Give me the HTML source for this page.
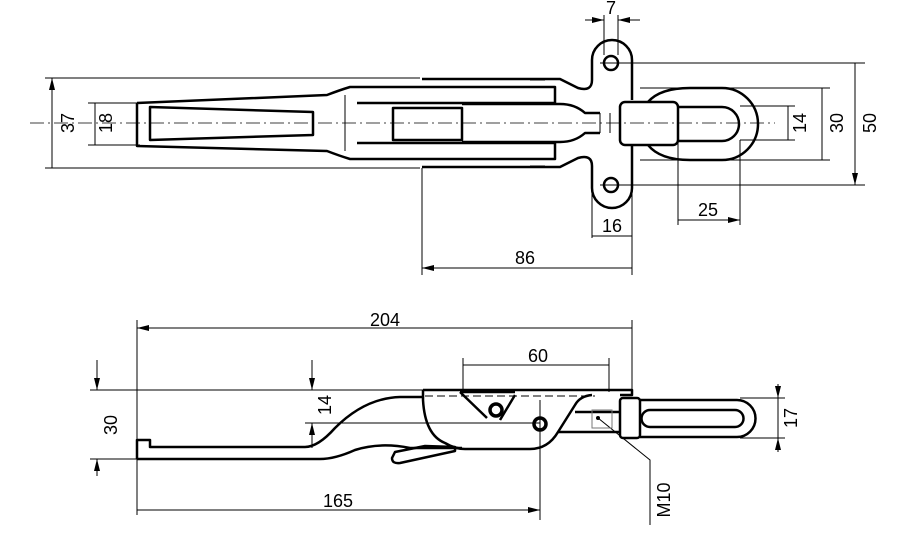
<!DOCTYPE html>
<html><head><meta charset="utf-8"><style>body{margin:0;background:#fff}svg{display:block}text{font-family:"Liberation Sans",sans-serif;font-size:18px;fill:#000}</style></head><body>
<svg width="900" height="540" viewBox="0 0 900 540" xmlns="http://www.w3.org/2000/svg">
<defs><marker id="a" viewBox="0 0 12 6" refX="12" refY="3" markerWidth="12" markerHeight="6" orient="auto-start-reverse" markerUnits="userSpaceOnUse"><path d="M0,0L12,3L0,6z"/></marker></defs>
<g fill="none" stroke="#000" stroke-width="1">
<path d="M45 78H420M45 168H420M88 103H140M88 145H140M600 63H865M600 185H865M640 88H830M640 160H830M740 106H795M740 140H795M422 168V275M632 150V275M592 190V238M632 190V238M678 140V225M740 140V225M604 15V55M618 15V55"/>
<path d="M52 78V168M95 103V145M788 106V140M822 88V160M855 63V185" marker-start="url(#a)" marker-end="url(#a)"/>
<path d="M422 268H632M592 236H632M678 220H740" marker-start="url(#a)" marker-end="url(#a)"/>
<path d="M585 20H604M618 20H640"/><path d="M590 20H604" marker-end="url(#a)"/><path d="M632 20H618" marker-end="url(#a)"/>
<path d="M30 123H775" stroke-dasharray="14 4 2 4" stroke-width="0.8"/>
</g>
<g fill="none" stroke="#000" stroke-width="2.5" stroke-linejoin="round">
<path d="M137 103L327 95Q340 90 350 87H555V103M137 103V146L327 151Q340 156 350 159H555V143"/>
<path d="M150 107L313 112V135L150 140Z"/>
<path d="M357 103H555M357 143H555M393 108H462V140H393Z"/>
<path d="M462 104H560Q575 104 585 113H600M462 142H560Q575 142 585 133H600"/>
<path d="M422 79H560L578 88Q592 92 592 80V60A19 19 0 0 1 632 60V100M422 167H560L578 158Q592 154 592 166V188A19 19 0 0 0 632 188V146"/>
<circle cx="611" cy="63" r="7"/><circle cx="611" cy="185" r="7"/>
<rect x="620" y="102" width="58" height="43" rx="5"/>
<path d="M648 102Q660 88 690 88H722A36 36 0 0 1 722 160H690Q660 160 648 145"/>
<path d="M678 107H722A17 17 0 0 1 722 141H678"/>
</g>
<g stroke="#000" stroke-width="1" fill="none"><path d="M600 113V133M610 113V133"/><path d="M345 95V151M530 80H545M530 166H545"/></g>
<text x="611" y="14" text-anchor="middle">7</text>
<text x="612" y="232" text-anchor="middle">16</text>
<text x="708" y="216" text-anchor="middle">25</text>
<text x="525" y="264" text-anchor="middle">86</text>
<text transform="translate(74,123) rotate(-90)" text-anchor="middle">37</text>
<text transform="translate(112,123) rotate(-90)" text-anchor="middle">18</text>
<text transform="translate(806,123) rotate(-90)" text-anchor="middle">14</text>
<text transform="translate(843,123) rotate(-90)" text-anchor="middle">30</text>
<text transform="translate(876,123) rotate(-90)" text-anchor="middle">50</text>
<g fill="none" stroke="#000" stroke-width="1">
<path d="M137 320V515M632 320V390M463 358V392M609 358V392M90 390H423M90 459H137M305 423H540M740 398H785M740 438H785M540 400V520"/>
<path d="M137 328H632M463 365H609M137 510H540" marker-start="url(#a)" marker-end="url(#a)"/>
<path d="M97 360V390M97 459V475M312 360V390M312 423V448M778 398V438"/>
<path d="M97 372V390" marker-end="url(#a)"/><path d="M97 476V459" marker-end="url(#a)"/>
<path d="M312 372V390" marker-end="url(#a)"/><path d="M312 446V423" marker-end="url(#a)"/>
<path d="M778 384V398" marker-end="url(#a)"/><path d="M778 452V438" marker-end="url(#a)"/>
<path d="M598 418L650 460V525"/>
<path d="M425 396H595" stroke-dasharray="8 4"/>
</g>
<g fill="none" stroke="#000" stroke-width="2.5" stroke-linejoin="round">
<path d="M137 459H320Q335 459 355 450Q380 442 410 448H462"/>
<path d="M137 459V440H150V447H305Q318 447 335 428Q365 398 400 397H423"/>
<path d="M423 390H632V395H620M423 390V400Q425 435 445 443Q455 449 465 449H530Q548 449 558 432L575 405Q580 396 592 395"/>
<path d="M558 432H620M575 412H620"/>
<path d="M395 452L425 446L455 447L455 451L400 463Q392 464 392 458Z"/>
<path d="M460 392L487 418M515 395L500 420M460 392H515"/>
<rect x="620" y="398" width="20" height="40" rx="3"/>
<path d="M640 400H737A18 18 0 0 1 737 437H640M650 410H735A8 8 0 0 1 735 427H650A8 8 0 0 1 650 410"/>
</g>
<circle cx="496" cy="410" r="6" fill="none" stroke="#000" stroke-width="3.5"/>
<circle cx="540" cy="424" r="6" fill="none" stroke="#000" stroke-width="3.5"/>
<rect x="592" y="410" width="20" height="18" fill="none" stroke="#777" stroke-width="1"/>
<circle cx="598" cy="418" r="2"/>
<text x="385" y="326" text-anchor="middle">204</text>
<text x="538" y="362" text-anchor="middle">60</text>
<text x="338" y="507" text-anchor="middle">165</text>
<text transform="translate(117,425) rotate(-90)" text-anchor="middle">30</text>
<text transform="translate(331,405) rotate(-90)" text-anchor="middle">14</text>
<text transform="translate(797,418) rotate(-90)" text-anchor="middle">17</text>
<text transform="translate(670,500) rotate(-90)" text-anchor="middle">M10</text>
</svg>
</body></html>
